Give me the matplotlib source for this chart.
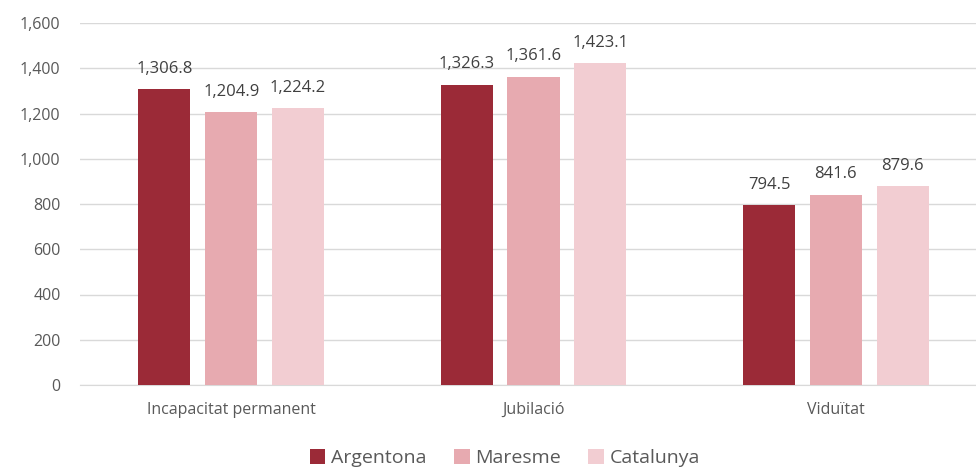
import numpy as np
import matplotlib.pyplot as plt

plt.rcParams['font.family'] = ['Open Sans', 'DejaVu Sans']

categories = ['Incapacitat permanent', 'Jubilació', 'Viduïtat']
series = ['Argentona', 'Maresme', 'Catalunya']
argentona = [1306.8, 1326.3, 794.5]
maresme = [1204.9, 1361.6, 841.6]
catalunya = [1224.2, 1423.1, 879.6]
colors = ['#9B2A37', '#E7AAB0', '#F2CDD2']

fig = plt.figure(figsize=(9.76, 4.7), dpi=100)
ax = fig.add_axes([80 / 976, 85 / 470, 907 / 976, 362 / 470])

x = np.arange(len(categories))
w = 0.172
step = 0.221
for i, (vals, name) in enumerate(zip([argentona, maresme, catalunya], series)):
    bars = ax.bar(x + (i - 1) * step, vals, w, color=colors[i], label=name, zorder=3)
    for b, v in zip(bars, vals):
        ax.text(b.get_x() + b.get_width() / 2, v + 55, f'{v:,.1f}',
                ha='center', va='bottom', fontsize=12, color='#404040')

ax.set_xlim(-0.5, 2.5)
ax.set_ylim(0, 1600)
ax.set_yticks(range(0, 1601, 200))
ax.set_yticklabels([f'{v:,}' for v in range(0, 1601, 200)])
ax.set_xticks(x)
ax.set_xticklabels(categories)
ax.yaxis.grid(True, color='#D9D9D9', linewidth=1, zorder=0)
for s in ['top', 'right', 'left']:
    ax.spines[s].set_visible(False)
ax.spines['bottom'].set_color('#D9D9D9')
ax.tick_params(axis='both', length=0, labelsize=11.5, colors='#595959')
ax.tick_params(axis='x', pad=12)
ax.tick_params(axis='y', pad=14)

fig.legend(loc='center', bbox_to_anchor=(505 / 976, 1 - 458 / 470), ncol=3,
           frameon=False, fontsize=14, handlelength=0.8, handleheight=0.8,
           handletextpad=0.3, columnspacing=1.4, labelcolor='#595959')

fig.savefig('out.png', dpi=100)
